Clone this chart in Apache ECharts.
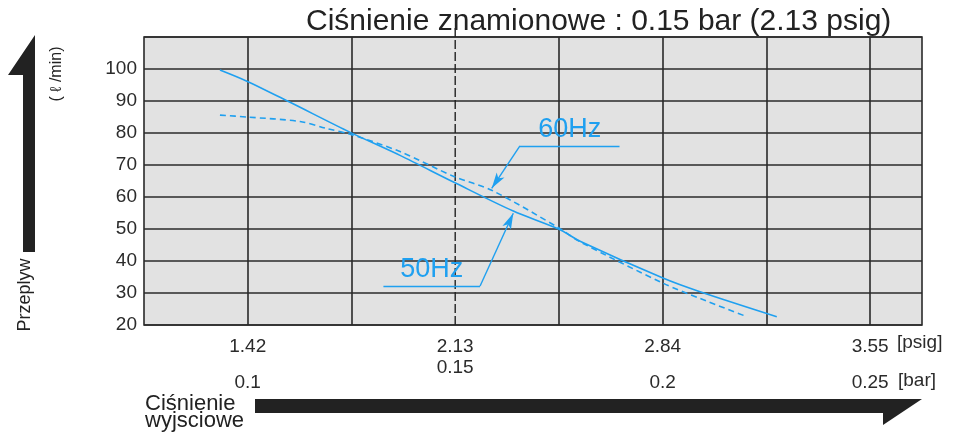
<!DOCTYPE html>
<html>
<head>
<meta charset="utf-8">
<script src="https://cdn.jsdelivr.net/npm/echarts@6/dist/echarts.min.js"></script>
<style>
  html, body { margin: 0; padding: 0; background: #fff; }
  #chart { width: 954px; height: 437px; }
</style>
</head>
<body>
<div id="chart"></div>
<script>
// outlet pressure in bar (x), flow in l/min (y)
const pressure50 = [0.0933, 0.0998, 0.1102, 0.1247, 0.1367, 0.1497, 0.1640, 0.1749, 0.1801, 0.2002, 0.2090, 0.2275];
const flow50 = [99.7, 96.2, 89.6, 80.2, 73.0, 64.6, 55.6, 50.0, 46.2, 34.6, 30.4, 22.6];
const pressure60 = [0.0933, 0.0998, 0.1126, 0.1190, 0.1247, 0.1367, 0.1497, 0.1588, 0.1749, 0.1801, 0.2002, 0.2090, 0.2203];
const flow60 = [85.6, 85.0, 83.6, 81.4, 79.6, 74.2, 66.4, 62.1, 50.4, 46.0, 33.0, 28.3, 22.6];

// tick labels
const barTicks = [0.1, 0.15, 0.2, 0.25];
const psigTicks = ['1.42', '2.13', '2.84', '3.55'];
const flowTicks = [20, 30, 40, 50, 60, 70, 80, 90, 100];

// rated pressure line
const ratedBar = 0.15;
const ratedSpan = [20, 112.8];

// leader lines for the curve labels: [elbow, end of shelf, arrow tip]
const leader60 = [[0.1656, 76.0], [0.1896, 76.0], [0.1588, 62.7]];
const leader50 = [[0.1560, 32.2], [0.1327, 32.2], [0.1640, 54.9]];

const blue = '#1fa0f0';
const ink = '#2a2a2a';
const font = '"Liberation Sans", Arial, "DejaVu Sans", sans-serif';

function tickIndex(v) {
  for (let i = 0; i < barTicks.length; i++) {
    if (Math.abs(v - barTicks[i]) < 1e-6) return i;
  }
  return -1;
}

function leaderLines(pts, text) {
  return [
    [{ coord: pts[0], symbol: 'none', label: { show: true, formatter: text } }, { coord: pts[1], symbol: 'none' }],
    [{ coord: pts[0], symbol: 'none' }, { coord: pts[2], symbol: 'arrow', symbolSize: [7, 16] }]
  ];
}

const chart = echarts.init(document.getElementById('chart'));

// grid colours: the line at the rated pressure is drawn dashed separately
const xSplitColors = ['transparent', ink, ink, 'transparent', ink, ink, ink, ink];

const option = {
  animation: false,
  textStyle: { fontFamily: font },
  grid: {
    left: 144, top: 37, right: 32, bottom: 112,
    show: true,
    backgroundColor: '#e2e2e2',
    borderColor: ink,
    borderWidth: 1.6
  },
  xAxis: [
    {
      type: 'value',
      min: 0.075, max: 0.2625, interval: 0.025,
      axisLine: { show: false },
      axisTick: { show: false },
      splitLine: { show: true, lineStyle: { color: xSplitColors, width: 1.6 } },
      axisLabel: {
        margin: 11,
        fontSize: 19,
        lineHeight: 21,
        color: '#2b2b2b',
        formatter: function (v) {
          const i = tickIndex(v);
          if (i < 0) return '';
          if (Math.abs(barTicks[i] - ratedBar) < 1e-6) return psigTicks[i] + '\n' + barTicks[i];
          return psigTicks[i];
        }
      }
    },
    {
      type: 'value',
      position: 'bottom',
      offset: 36,
      min: 0.075, max: 0.2625, interval: 0.025,
      axisLine: { show: false },
      axisTick: { show: false },
      splitLine: { show: false },
      axisLabel: {
        margin: 11,
        fontSize: 19,
        lineHeight: 21,
        color: '#2b2b2b',
        formatter: function (v) {
          const i = tickIndex(v);
          if (i < 0 || Math.abs(barTicks[i] - ratedBar) < 1e-6) return '';
          return String(barTicks[i]);
        }
      }
    }
  ],
  yAxis: {
    type: 'value',
    min: 20, max: 110, interval: 10,
    axisLine: { show: false },
    axisTick: { show: false },
    splitLine: { show: true, lineStyle: { color: ink, width: 1.6 } },
    axisLabel: {
      margin: 7,
      fontSize: 19,
      color: '#2b2b2b',
      formatter: function (v) {
        return flowTicks.indexOf(v) >= 0 ? String(v) : '';
      }
    }
  },
  series: [
    {
      name: 'rated',
      type: 'line',
      clip: false,
      silent: true,
      symbol: 'none',
      z: 1,
      lineStyle: { color: '#222', width: 1.4, type: [9, 3] },
      data: [[ratedBar, ratedSpan[0]], [ratedBar, ratedSpan[1]]]
    },
    {
      name: '50Hz',
      type: 'line',
      smooth: 0.3,
      symbol: 'none',
      z: 3,
      lineStyle: { color: blue, width: 1.6 },
      data: pressure50.map(function (p, i) { return [p, flow50[i]]; }),
      markLine: {
        silent: true,
        animation: false,
        lineStyle: { color: blue, width: 1.4, type: 'solid' },
        label: { show: false, position: 'middle', color: blue, fontSize: 27, distance: 3 },
        data: leaderLines(leader50, '50Hz')
      }
    },
    {
      name: '60Hz',
      type: 'line',
      smooth: 0.3,
      symbol: 'none',
      z: 3,
      lineStyle: { color: blue, width: 1.6, type: [6, 4] },
      data: pressure60.map(function (p, i) { return [p, flow60[i]]; }),
      markLine: {
        silent: true,
        animation: false,
        lineStyle: { color: blue, width: 1.4, type: 'solid' },
        label: { show: false, position: 'middle', color: blue, fontSize: 27, distance: 3 },
        data: leaderLines(leader60, '60Hz')
      }
    }
  ],
  graphic: [
    {
      type: 'text', left: 306, top: 7, z: 0,
      style: { text: 'Ciśnienie znamionowe : 0.15 bar (2.13 psig)', font: '30px ' + font, fill: '#222' }
    },
    {
      type: 'polygon', z: 0,
      shape: { points: [[35, 35], [8, 75], [23, 75], [23, 252], [35, 252]] },
      style: { fill: '#222' }
    },
    {
      type: 'polygon', z: 0,
      shape: { points: [[255, 399], [922, 399], [883, 425], [883, 413], [255, 413]] },
      style: { fill: '#222' }
    },
    {
      type: 'text', x: 25, y: 295, rotation: Math.PI / 2,
      style: { text: 'Przeplyw', font: '18px ' + font, fill: '#222', align: 'center', verticalAlign: 'middle' }
    },
    {
      type: 'text', x: 57, y: 74, rotation: Math.PI / 2,
      style: { text: '( ℓ /min)', font: '16px ' + font, fill: '#222', align: 'center', verticalAlign: 'middle' }
    },
    {
      type: 'text', x: 145, y: 404,
      style: { text: 'Ciśnienie', font: '22px ' + font, fill: '#222', align: 'left', verticalAlign: 'middle' }
    },
    {
      type: 'text', x: 145, y: 421,
      style: { text: 'wyjsciowe', font: '22px ' + font, fill: '#222', align: 'left', verticalAlign: 'middle' }
    },
    {
      type: 'text', x: 897, y: 343,
      style: { text: '[psig]', font: '19px ' + font, fill: '#2b2b2b', align: 'left', verticalAlign: 'middle' }
    },
    {
      type: 'text', x: 898, y: 381,
      style: { text: '[bar]', font: '19px ' + font, fill: '#2b2b2b', align: 'left', verticalAlign: 'middle' }
    }
  ]
};

chart.setOption(option);
</script>
</body>
</html>
